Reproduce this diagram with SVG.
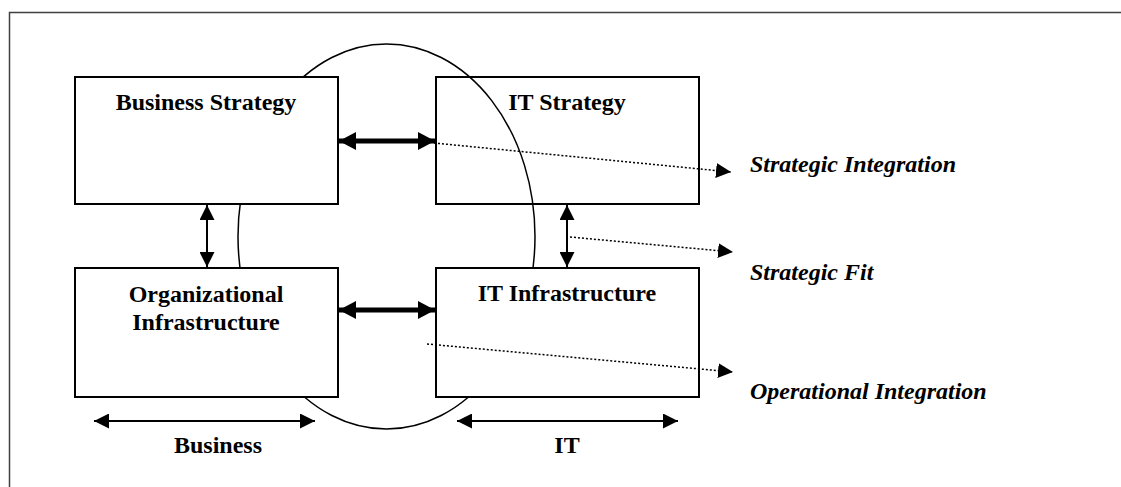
<svg xmlns="http://www.w3.org/2000/svg" width="1121" height="487" viewBox="0 0 1121 487">
<style>
.box{fill:#fff;stroke:#000;stroke-width:2}
.lbl{font-family:"Liberation Serif","Times New Roman",serif;font-weight:bold;font-size:24px;fill:#000;text-anchor:middle}
.side{font-family:"Liberation Serif","Times New Roman",serif;font-weight:bold;font-style:italic;font-size:24px;fill:#000}
.thick{stroke:#000;stroke-width:5;fill:none}
.thin{stroke:#000;stroke-width:2;fill:none}
.dot{stroke:#000;stroke-width:1.5;stroke-dasharray:2 2;fill:none}
</style>
<defs>
<marker id="ah-big" markerUnits="userSpaceOnUse" viewBox="0 0 17 18" markerWidth="17" markerHeight="18" refX="17" refY="9" orient="auto-start-reverse"><path d="M0,0 L17,9 L0,18 z" fill="#000"/></marker>
<marker id="ah" markerUnits="userSpaceOnUse" viewBox="0 0 15 15" markerWidth="15" markerHeight="15" refX="15" refY="7.5" orient="auto-start-reverse"><path d="M0,0 L15,7.5 L0,15 z" fill="#000"/></marker>
</defs>
<rect width="1121" height="487" fill="#fff"/>
<path d="M9.5,487 V12.5 H1121" fill="none" stroke="#404040" stroke-width="1.5"/>
<g id="it-strategy"><rect class="box" x="436" y="77" width="263" height="127"/><text class="lbl" x="567" y="110">IT Strategy</text></g>
<ellipse id="alignment-ellipse" cx="386.5" cy="236.5" rx="148.5" ry="192.5" fill="none" stroke="#000" stroke-width="1.5"/>
<g id="business-strategy"><rect class="box" x="75" y="77" width="263" height="127"/><text class="lbl" x="206" y="110">Business Strategy</text></g>
<g id="org-infrastructure"><rect class="box" x="75" y="268" width="263" height="129"/><text class="lbl" x="206" y="302">Organizational</text><text class="lbl" x="206" y="330">Infrastructure</text></g>
<g id="it-infrastructure"><rect class="box" x="436" y="268" width="263" height="129"/><text class="lbl" x="567" y="301">IT Infrastructure</text></g>
<g id="connectors">
<line class="thick" x1="339" y1="141" x2="435" y2="141" marker-start="url(#ah-big)" marker-end="url(#ah-big)"/>
<line class="thick" x1="339" y1="310" x2="435" y2="310" marker-start="url(#ah-big)" marker-end="url(#ah-big)"/>
<line class="thin" x1="207" y1="205" x2="207" y2="267" marker-start="url(#ah)" marker-end="url(#ah)"/>
<line class="thin" x1="567" y1="205" x2="567" y2="267" marker-start="url(#ah)" marker-end="url(#ah)"/>
<line class="thin" x1="94" y1="421" x2="315" y2="421" marker-start="url(#ah)" marker-end="url(#ah)"/>
<line class="thin" x1="457" y1="421" x2="678" y2="421" marker-start="url(#ah)" marker-end="url(#ah)"/>
<line class="dot" x1="434" y1="143" x2="731" y2="172" marker-end="url(#ah)"/>
<line class="dot" x1="570" y1="237" x2="733" y2="252" marker-end="url(#ah)"/>
<line class="dot" x1="427" y1="344" x2="733" y2="372" marker-end="url(#ah)"/>
</g>
<g id="labels">
<text class="side" x="750" y="172">Strategic Integration</text>
<text class="side" x="750" y="280">Strategic Fit</text>
<text class="side" x="750" y="399">Operational Integration</text>
<text class="lbl" x="218" y="453">Business</text>
<text class="lbl" x="567" y="453">IT</text>
</g>
</svg>
